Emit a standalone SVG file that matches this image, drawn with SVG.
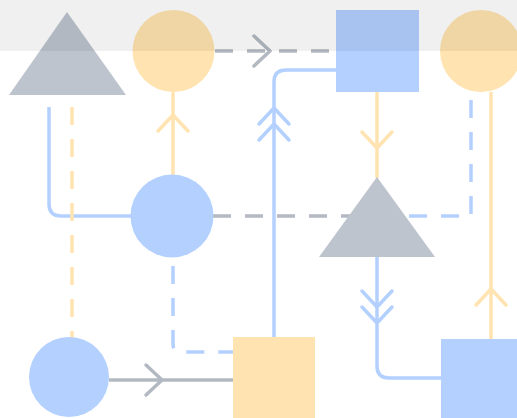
<svg xmlns="http://www.w3.org/2000/svg" xmlns:xlink="http://www.w3.org/1999/xlink" width="517" height="418" viewBox="0 0 517 418">
  <style>
    .ln { fill: none; stroke-width: 3.5; stroke-linejoin: round; }
    .b { stroke: #B3D0FF; }
    .y { stroke: #FFE3B0; }
    .g { stroke: #B3B9C2; }
    .d { stroke-dasharray: 18 14; }
    .fb { fill: #B3D0FF; }
    .fy { fill: #FFE3B0; }
    .fg { fill: #BEC4CE; }
    .chev { fill: none; stroke-width: 3.5; stroke-linecap: round; stroke-linejoin: round; }
  </style>
  <defs>
    <path id="chev" d="M-16,-15 L0,0 L-16,15"/>
  </defs>
  <rect x="0" y="0" width="517" height="418" fill="#ffffff"/>

  <g id="connectors">
    <!-- circle1 -> square1 (gray dashed) -->
    <path class="ln g d" d="M215,51 L336,51"/>
    <use href="#chev" class="chev g" transform="translate(270,51)"/>
    <!-- blue circle -> circle1 (yellow) -->
    <path class="ln y" d="M173,175 L173,92"/>
    <use href="#chev" class="chev y" transform="translate(173,115) rotate(-90)"/>
    <!-- orange square -> square1 (blue) -->
    <path class="ln b" d="M274,337 L274,82 Q274,70 286,70 L336,70"/>
    <use href="#chev" class="chev b" transform="translate(274,108) rotate(-90)"/>
    <use href="#chev" class="chev b" transform="translate(274,124) rotate(-90)"/>
    <!-- square1 -> triangle2 (yellow) -->
    <path class="ln y" d="M377,92 L377,178"/>
    <use href="#chev" class="chev y" transform="translate(377,148) rotate(90)"/>
    <!-- triangle1 -> blue circle (blue) -->
    <path class="ln b" d="M49,107 L49,204 Q49,216 61,216 L131,216"/>
    <!-- triangle1 -> bottom circle (yellow dashed) -->
    <path class="ln y d" d="M72,107 L72,338"/>
    <!-- blue circle -> triangle2 (gray dashed) -->
    <path class="ln g d" d="M213,216 L377,216"/>
    <!-- circle2 -> triangle2 (blue dashed) -->
    <path class="ln b d" d="M471,100 L471,216 L405,216"/>
    <!-- blue circle -> orange square (blue dashed) -->
    <path class="ln b d" d="M173,266 L173,344 Q173,352 181,352 L233,352"/>
    <!-- bottom circle -> orange square (gray) -->
    <path class="ln g" d="M109,380 L233,380"/>
    <use href="#chev" class="chev g" transform="translate(162,380)"/>
    <!-- triangle2 -> blue square2 (blue) -->
    <path class="ln b" d="M377,257 L377,366 Q377,378 389,378 L441,378"/>
    <use href="#chev" class="chev b" transform="translate(377,307) rotate(90)"/>
    <use href="#chev" class="chev b" transform="translate(377,323) rotate(90)"/>
    <!-- blue square2 -> circle2 (yellow) -->
    <path class="ln y" d="M491,339 L491,92"/>
    <use href="#chev" class="chev y" transform="translate(491,289) rotate(-90)"/>
  </g>

  <g id="triangle1"><polygon class="fg" points="67,12 126,95 9,95"/></g>
  <g id="circle1"><circle class="fy" cx="173.5" cy="51" r="41"/></g>
  <g id="square1"><rect class="fb" x="336" y="10" width="83" height="82"/></g>
  <g id="circle2"><circle class="fy" cx="481" cy="51" r="41"/></g>
  <g id="blueCircle"><circle class="fb" cx="172" cy="216" r="41.5"/></g>
  <g id="triangle2"><polygon class="fg" points="377,177 435,257 319,257"/></g>
  <g id="bottomCircle"><circle class="fb" cx="69" cy="377" r="40"/></g>
  <g id="orangeSquare"><rect class="fy" x="233" y="337" width="82" height="82"/></g>
  <g id="blueSquare2"><rect class="fb" x="441" y="339" width="82" height="82"/></g>

  <rect x="0" y="0" width="517" height="51" fill="#000000" fill-opacity="0.06"/>
</svg>
